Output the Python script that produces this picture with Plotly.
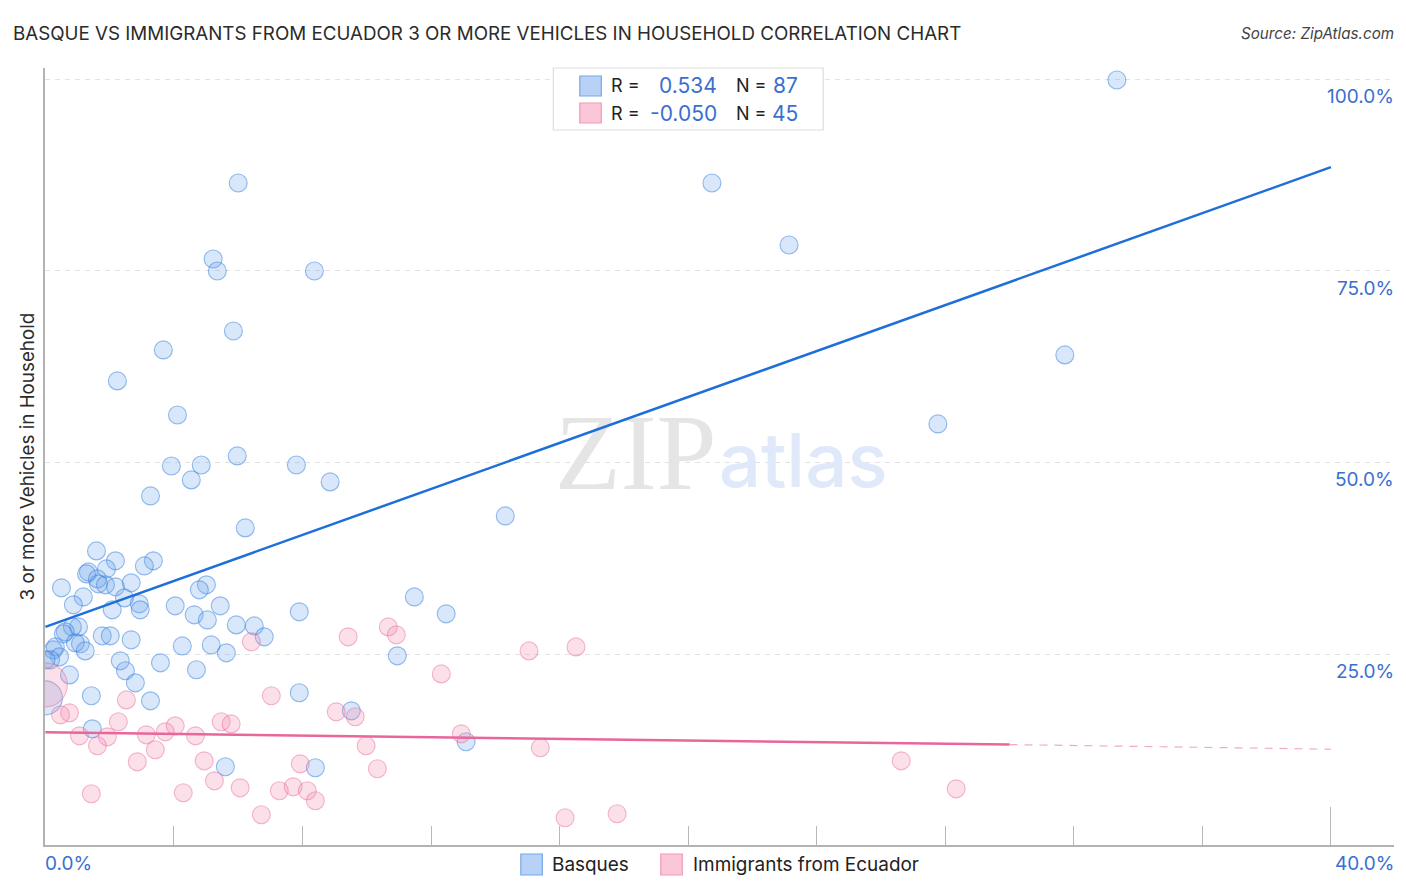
import plotly.graph_objects as go

TITLE = "BASQUE VS IMMIGRANTS FROM ECUADOR 3 OR MORE VEHICLES IN HOUSEHOLD CORRELATION CHART"
SOURCE = "Source: ZipAtlas.com"
Y_TITLE = "3 or more Vehicles in Household"
SERIES = ["Basques", "Immigrants from Ecuador"]
Y_TICKS = [25, 50, 75, 100]
Y_TICK_LABELS = ["25.0%", "50.0%", "75.0%", "100.0%"]
X_MINOR = [4, 8, 12, 16, 20, 24, 28, 32, 36]

blue_x = [6.22,1.59,2.18,3.36,3.08,1.90,1.34,1.28,1.62,1.65,1.87,2.18,2.67,0.50,1.18,0.87,2.46,2.92,2.95,2.08,
          4.04,5.01,4.79,5.44,4.63,5.04,5.94,6.50,6.81,7.90,1.03,0.84,0.62,0.56,1.77,2.02,2.67,5.16,4.26,5.63,
          1.09,0.93,1.24,0.31,0.25,0.44,0.16,2.33,3.58,2.49,4.70,0.75,2.80,1.43,3.27,7.90,9.52,1.46,5.60,8.40,0.02,
          33.34,20.74,6.00,23.14,5.22,5.35,8.37,5.85,31.72,3.67,2.24,4.11,27.77,5.97,3.92,4.85,7.81,4.54,8.86,3.27,
          14.31,11.48,12.47,10.95,13.09]
blue_y = [41.46,38.46,37.16,37.16,36.50,36.11,35.72,35.46,34.81,34.16,34.03,33.77,34.29,33.64,32.46,31.42,32.33,31.55,30.77,30.77,
          31.29,34.03,33.38,31.29,30.12,29.46,28.81,28.68,27.25,30.51,28.55,28.55,27.90,27.64,27.38,27.38,26.86,26.20,26.07,25.16,
          26.34,26.47,25.42,25.94,25.55,24.64,24.25,24.12,23.86,22.82,22.95,22.29,21.25,19.56,18.90,19.95,17.60,15.25,10.30,10.17,24.25,
          99.87,86.44,86.44,78.36,76.53,74.97,74.97,67.14,64.02,64.67,60.63,56.19,55.02,50.85,49.54,49.67,49.67,47.72,47.46,45.63,
          43.02,32.46,30.25,24.77,13.56]
blue_big_x = [0.0]
blue_big_y = [19.29]

pink_x = [9.42,6.41,2.52,7.03,0.75,0.47,2.27,9.05,9.64,5.47,5.78,4.04,3.73,3.14,1.06,1.93,4.67,1.62,3.42,2.86,4.94,7.93,
          5.26,6.06,4.29,1.43,7.28,7.71,8.15,8.40,6.72,10.67,10.92,15.05,16.51,12.32,12.94,9.98,15.40,10.33,26.63,28.34,16.17,17.79]
pink_y = [27.25,26.60,19.03,19.56,17.34,17.08,16.17,17.47,16.82,16.17,15.90,15.64,14.86,14.47,14.34,14.21,14.34,13.04,12.52,10.95,11.08,10.69,
          8.47,7.56,6.91,6.78,7.17,7.69,7.17,5.87,4.04,28.55,27.51,25.42,25.94,22.42,14.60,13.04,12.78,10.04,11.08,7.43,3.65,4.17]
pink_big_x = [0.0]
pink_big_y = [20.99]

blue_line_x = [0, 40]
blue_line_y = [28.55, 88.5]
pink_line_x = [0, 30]
pink_line_y = [14.8, 13.2]
pink_dash_x = [30, 40]
pink_dash_y = [13.2, 12.6]

W, H = 1406, 892
L, R, T, B = 44.5, 1394, 68, 845
FONT = "Inter"
BLUE_TEXT = "#3a6fd0"
INK = "#222222"

def px(v):
    return (v - L) / (R - L)

def py(v):
    return (B - v) / (B - T)

x_range = [-0.012, (R - L) / 32.15 - 0.012]
y_range = [100 - (B - 79) * 25 / 191.7, 100 + (79 - T) * 25 / 191.7]

BLUE_FILL = "rgba(110,165,235,0.27)"
BLUE_EDGE = "rgba(50,125,220,0.50)"
PINK_FILL = "rgba(245,140,175,0.27)"
PINK_EDGE = "rgba(232,100,150,0.45)"

fig = go.Figure()
# watermark sits under the marks
fig.add_trace(go.Scatter(x=[(635 - L) / 32.15], y=[100 - (462 - 79) * 25 / 191.7], mode="text", text=["ZIP"],
                         textposition="middle center", hoverinfo="skip", showlegend=False,
                         textfont=dict(family="Liberation Serif", size=108, color="#e5e5e5")))
fig.add_trace(go.Scatter(x=[(802.5 - L) / 32.15], y=[100 - (468 - 79) * 25 / 191.7], mode="text", text=["atlas"],
                         textposition="middle center", hoverinfo="skip", showlegend=False,
                         textfont=dict(family=FONT, size=74.5, color="#dfe9f9", weight=500)))

def dots(x, y, fill, edge, size, name):
    fig.add_trace(go.Scatter(x=x, y=y, mode="markers", name=name, showlegend=False,
                             marker=dict(size=size, color=fill, line=dict(color=edge, width=1.1))))

dots(blue_big_x, blue_big_y, BLUE_FILL, BLUE_EDGE, 34, SERIES[0])
dots(blue_x, blue_y, BLUE_FILL, BLUE_EDGE, 18, SERIES[0])
dots(pink_big_x, pink_big_y, PINK_FILL, PINK_EDGE, 44, SERIES[1])
dots(pink_x, pink_y, PINK_FILL, PINK_EDGE, 18, SERIES[1])

fig.add_trace(go.Scatter(x=pink_dash_x, y=pink_dash_y, mode="lines", showlegend=False,
                         line=dict(color="rgba(232,101,154,0.55)", width=1.2, dash="8px,7px")))
fig.add_trace(go.Scatter(x=pink_line_x, y=pink_line_y, mode="lines", showlegend=False,
                         line=dict(color="#e8679b", width=2.5)))
fig.add_trace(go.Scatter(x=blue_line_x, y=blue_line_y, mode="lines", showlegend=False,
                         line=dict(color="#1f6fd9", width=2.5)))

ann = []
def text(x, y, s, size, color=INK, anchor="left", **kw):
    ann.append(dict(xref="paper", yref="paper", x=px(x), y=py(y), text=s, showarrow=False, xanchor=anchor,
                    yanchor="middle", align=anchor, font=dict(family=FONT, size=size, color=color),
                    borderpad=0, borderwidth=0, **kw))

text(12, 33, TITLE, 18.76, "#2b2b2b")
text(1394, 34, "<i>" + SOURCE + "</i>", 15.2, "#444444", anchor="right")
text(27, 457, Y_TITLE, 18.8, "#2b2b2b", anchor="center", textangle=-90)
text(45, 863, "0.0%", 19, BLUE_TEXT)
text(1394, 863, "40.0%", 19, BLUE_TEXT, anchor="right")
for v, lab in zip(Y_TICKS, Y_TICK_LABELS):
    pix = 79 + (100 - v) * 191.7 / 25
    text(1394, pix + 17.5, lab, 19, BLUE_TEXT, anchor="right")

text(611, 86, "R =", 18)
text(611, 113, "R =", 18)
text(717, 86, "0.534", 21, BLUE_TEXT, anchor="right")
text(717, 113, "-0.050", 21, BLUE_TEXT, anchor="right")
text(736, 86, "N =", 18)
text(736, 113, "N =", 18)
text(798, 86, "87", 21, BLUE_TEXT, anchor="right")
text(798, 113, "45", 21, BLUE_TEXT, anchor="right")
text(552, 864, SERIES[0], 18.95)
text(693, 864, SERIES[1], 18.95)

shapes = []
def box(x0, y0, x1, y1, fill, edge, w=1):
    shapes.append(dict(type="rect", xref="paper", yref="paper", x0=px(x0), x1=px(x1), y0=py(y1), y1=py(y0),
                       fillcolor=fill, line=dict(color=edge, width=w), layer="above"))

box(553, 68, 823, 130, "white", "#dddddd", 1.2)
box(579.5, 76, 601, 96, "#b7d2f6", "#74a9e6", 1.2)
box(579.5, 103, 601, 123, "#fcc6d9", "#f09ab8", 1.2)
box(520.5, 854, 542, 875, "#b7d2f6", "#74a9e6", 1.2)
box(660.5, 854, 682, 875, "#fcc6d9", "#f09ab8", 1.2)

fig.update_layout(
    width=W, height=H, autosize=False, margin=dict(l=L, r=W - R, t=T, b=H - B, pad=0),
    paper_bgcolor="white", plot_bgcolor="white", showlegend=False, annotations=ann, shapes=shapes,
    xaxis=dict(range=x_range, showgrid=False, zeroline=False, showline=True, linecolor="#b3b3b3", linewidth=1.5,
               tickmode="array", tickvals=[40], showticklabels=False, ticks="inside", ticklen=38,
               tickcolor="#b8b8b8", tickwidth=1.2,
               minor=dict(tickmode="array", tickvals=X_MINOR, ticks="inside", ticklen=19,
                          tickcolor="#b8b8b8", tickwidth=1.2, showgrid=False)),
    yaxis=dict(range=y_range, showgrid=True, gridcolor="#e2e2e2", griddash="5px,5px", gridwidth=1, zeroline=False,
               showline=True, linecolor="#b3b3b3", linewidth=1.5, tickmode="array", tickvals=Y_TICKS,
               showticklabels=False, ticks=""),
)
fig.write_html("out.html", config={"displayModeBar": False},
               post_script="document.body.style.margin='0';document.documentElement.style.overflow='hidden';")
